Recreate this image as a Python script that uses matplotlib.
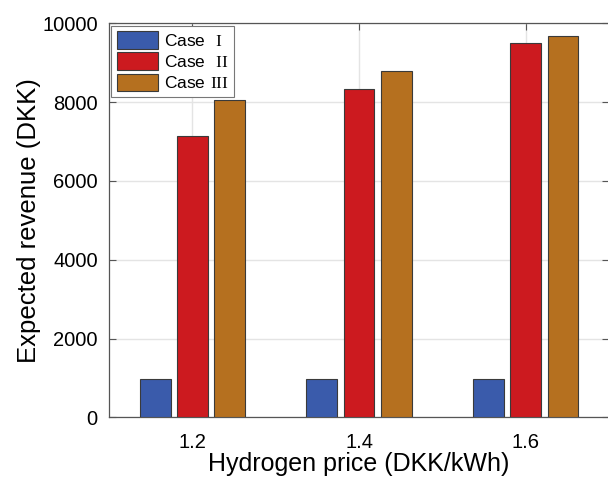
import numpy as np
import matplotlib
matplotlib.use("Agg")
import matplotlib.pyplot as plt

plt.rcParams['font.family'] = ['Liberation Sans', 'DejaVu Sans']
plt.rcParams['mathtext.fontset'] = 'custom'
plt.rcParams['mathtext.rm'] = 'Liberation Serif'
plt.rcParams['mathtext.sf'] = 'Liberation Sans'

# data
prices = [1.2, 1.4, 1.6]
case1 = [985, 985, 985]
case2 = [7140, 8330, 9510]
case3 = [8050, 8780, 9680]
labels = [r'$\mathsf{Case}\ \ \mathrm{I}$', r'$\mathsf{Case}\ \ \mathrm{II}$',
          r'$\mathsf{Case}\ \mathrm{III}$']
colors = ['#3a5bab', '#cc1a1f', '#b5701f']

fig = plt.figure(figsize=(6.08, 4.84), dpi=100)
ax = fig.add_axes([0.179, 0.1374, 0.823, 0.8145])

x = np.array(prices)
w = 0.037
step = 0.0445
for i, (vals, lab, c) in enumerate(zip([case1, case2, case3], labels, colors)):
    ax.bar(x + (i - 1) * step, vals, width=w, color=c, edgecolor='#3a3a3a',
           linewidth=0.8, label=lab, zorder=3)

ax.set_xlim(1.1, 1.7)
ax.set_ylim(0, 10000)
ax.set_xticks(prices)
ax.set_xticklabels(['1.2', '1.4', '1.6'])
ax.set_yticks([0, 2000, 4000, 6000, 8000, 10000])
ax.grid(True, color='#e4e4e4', linewidth=1, zorder=0)
ax.tick_params(direction='in', top=True, right=True, labelsize=14.5,
               length=5, color='#555555')
ax.tick_params(axis='x', pad=11)
ax.tick_params(axis='y', pad=8)
for s in ax.spines.values():
    s.set_color('#555555')
    s.set_linewidth(0.9)

ax.set_xlabel('Hydrogen price (DKK/kWh)', fontsize=18, labelpad=0)
ax.set_ylabel('Expected revenue (DKK)', fontsize=18.5, labelpad=1)

leg = ax.legend(loc='upper left', fontsize=12.5, fancybox=False,
                edgecolor='#777777', framealpha=1, borderaxespad=0.15,
                handlelength=2.4, handleheight=1.2, labelspacing=0.2,
                handletextpad=0.35, borderpad=0.3)
leg.get_frame().set_linewidth(0.8)

fig.savefig('out.png', dpi=100)
